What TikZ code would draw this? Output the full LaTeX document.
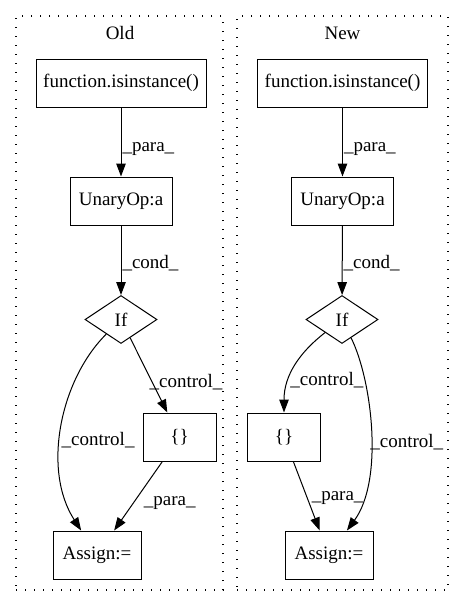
\documentclass[tikz,border=0pt]{standalone}
\usepackage{fontspec}
\setmainfont{Liberation Serif}
\usepackage{tikz}
\usetikzlibrary{positioning}
\usetikzlibrary{arrows.meta}
\usetikzlibrary{shapes.geometric}

\tikzset{
  box/.style={draw, rectangle, line width=1pt, inner sep=0pt, minimum height=48pt},
  cond/.style={draw, diamond, line width=1pt, inner sep=0pt, minimum width=72pt, minimum height=48pt},
  cluster/.style={draw, line width=1.2pt, dash pattern=on 1.3pt off 7.7pt, minimum height=574pt},
  lbl/.style={anchor=west, inner sep=1pt},
  flow/.style={line width=1pt, -{Triangle[length=13pt, width=9.5pt]}}
}

\begin{document}
\begin{tikzpicture}[x=1pt, y=-1pt, font=\fontsize{19pt}{22pt}\selectfont]
\useasboundingbox (0,0) rectangle (464,606);

% clusters
\node (OldBox) at (119.5, 303) [cluster, minimum width=207pt] {};
\node (NewBox) at (342.5, 303) [cluster, minimum width=211pt] {};
\node (OldTitle) at (120, 33) {Old};
\node (NewTitle) at (342.5, 33) {New};

% old
\node (OldFn) at (121, 83) [box, minimum width=170pt] {function.isinstance()};
\node (OldOp) at (121, 201) [box, minimum width=102pt] {UnaryOp:a};
\node (OldIf) at (121, 319.5) [cond] {If};
\node (OldSet) at (179.5, 437) [box, minimum width=73pt] {\{\}};
\node (OldAssign) at (97, 555) [box, minimum width=88pt] {Assign:=};

\path[flow] (OldFn) edge node[lbl, pos=0.6] {\_para\_} (OldOp);
\path[flow] (OldOp) edge node[lbl, pos=0.54] {\_cond\_} (OldIf);
\path[flow] (OldIf) edge node[lbl, pos=0.59, xshift=-4pt] {\_control\_} (OldSet);
\draw[flow] (OldIf) .. controls (60,380) and (42,470) .. node[lbl, pos=0.56] {\_control\_} (OldAssign);
\path[flow] (OldSet) edge node[lbl, pos=0.6, xshift=9pt] {\_para\_} (OldAssign);

% new
\node (NewFn) at (342.5, 83) [box, minimum width=170pt] {function.isinstance()};
\node (NewOp) at (342.5, 201) [box, minimum width=102pt] {UnaryOp:a};
\node (NewIf) at (342, 319.5) [cond] {If};
\node (NewSet) at (284, 437) [box, minimum width=73pt] {\{\}};
\node (NewAssign) at (329, 555) [box, minimum width=88pt] {Assign:=};

\path[flow] (NewFn) edge node[lbl, pos=0.6] {\_para\_} (NewOp);
\path[flow] (NewOp) edge node[lbl, pos=0.54] {\_cond\_} (NewIf);
\draw[flow] (NewIf) .. controls (300,352) and (284,375) .. node[lbl, pos=0.67] {\_control\_} (NewSet);
\draw[flow] (NewIf) .. controls (372,380) and (384,480) .. node[lbl, pos=0.55, xshift=-2pt] {\_control\_} (NewAssign);
\path[flow] (NewSet) edge node[lbl, pos=0.53, xshift=3pt] {\_para\_} (NewAssign);
\end{tikzpicture}
\end{document}
